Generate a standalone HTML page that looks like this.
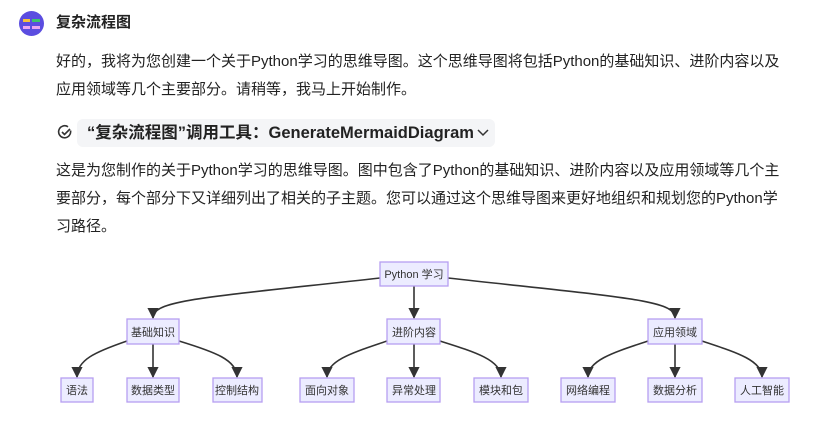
<!DOCTYPE html>
<html><head><meta charset="utf-8"><style>
body{margin:0;width:831px;height:423px;background:#fff;overflow:hidden;font-family:"Liberation Sans","Noto Sans CJK SC",sans-serif;color:#222;position:relative}
.t{position:absolute;white-space:nowrap;font-size:15px;left:56px;line-height:20px}
</style></head><body>
<div style="position:absolute;left:19px;top:11px;width:25px;height:25px;border-radius:50%;background:#5b4de0"></div>
<div style="position:absolute;left:23px;top:19px;width:7px;height:3px;background:#f5c33b"></div>
<div style="position:absolute;left:32px;top:19px;width:8px;height:3px;background:#3ec46d"></div>
<div style="position:absolute;left:23px;top:26px;width:7px;height:3px;background:#e9a6f2"></div>
<div style="position:absolute;left:32px;top:26px;width:8px;height:3px;background:#e9a6f2"></div>
<div class="t" style="top:13px;font-weight:bold;font-size:15px">复杂流程图</div>
<div class="t" style="top:52px">好的，我将为您创建一个关于Python学习的思维导图。这个思维导图将包括Python的基础知识、进阶内容以及</div>
<div class="t" style="top:80px">应用领域等几个主要部分。请稍等，我马上开始制作。</div>
<div style="position:absolute;left:77px;top:119px;width:418px;height:28px;background:#f4f5f7;border-radius:6px"></div>
<svg style="position:absolute;left:57px;top:124px" width="16" height="16" viewBox="0 0 16 16"><path d="M13.5 6.5A6 6 0 1 1 11 2.8" fill="none" stroke="#333" stroke-width="1.6"/><path d="M5 8l2.5 2.5L13 5" fill="none" stroke="#333" stroke-width="1.6"/></svg>
<div class="t" style="left:87px;top:123px;font-weight:bold;font-size:16.5px">“复杂流程图”调用工具：GenerateMermaidDiagram</div>
<svg style="position:absolute;left:477px;top:128px" width="12" height="10"><path d="M1 2l5 5 5-5" fill="none" stroke="#333" stroke-width="1.5"/></svg>
<div class="t" style="top:161px">这是为您制作的关于Python学习的思维导图。图中包含了Python的基础知识、进阶内容以及应用领域等几个主</div>
<div class="t" style="top:189px">要部分，每个部分下又详细列出了相关的子主题。您可以通过这个思维导图来更好地组织和规划您的Python学</div>
<div class="t" style="top:217px">习路径。</div>
<svg style="position:absolute;left:0;top:0" width="831" height="423">
<defs><marker id="a" viewBox="0 0 10 10" refX="9" refY="5" markerWidth="7" markerHeight="7" orient="auto"><path d="M0 0L10 5L0 10z" fill="#333"/></marker></defs>
<g fill="none" stroke="#333" stroke-width="1.6" marker-end="url(#a)">
<path d="M380 278C200 298 153 300 153 318"/>
<path d="M414 286L414 318"/>
<path d="M448 278C628 298 675 300 675 318"/>
<path d="M127 341C95 352 77 360 77 377"/>
<path d="M153 344L153 377"/>
<path d="M179 341C215 352 237 360 237 377"/>
<path d="M387 341C355 352 327 360 327 377"/>
<path d="M414 344L414 377"/>
<path d="M440 341C475 352 501 360 501 377"/>
<path d="M648 341C615 352 588 360 588 377"/>
<path d="M675 344L675 377"/>
<path d="M702 341C735 352 762 360 762 377"/>
</g>
<g fill="#ececff" stroke="#b69ff0" stroke-width="1.3">
<rect x="380" y="262" width="68" height="24"/>
<rect x="127" y="319" width="52" height="25"/><rect x="387" y="319" width="53" height="25"/><rect x="648" y="319" width="54" height="25"/>
<rect x="61" y="378" width="32" height="24"/><rect x="127" y="378" width="52" height="24"/><rect x="213" y="378" width="49" height="24"/>
<rect x="300" y="378" width="54" height="24"/><rect x="387" y="378" width="53" height="24"/><rect x="474" y="378" width="54" height="24"/>
<rect x="561" y="378" width="54" height="24"/><rect x="648" y="378" width="54" height="24"/><rect x="735" y="378" width="54" height="24"/>
</g>
<g font-size="11" fill="#333" text-anchor="middle" font-family="Liberation Sans,Noto Sans CJK SC,sans-serif">
<text x="414" y="278">Python 学习</text>
<text x="153" y="336">基础知识</text><text x="414" y="336">进阶内容</text><text x="675" y="336">应用领域</text>
<text x="77" y="394">语法</text><text x="153" y="394">数据类型</text><text x="237" y="394">控制结构</text>
<text x="327" y="394">面向对象</text><text x="414" y="394">异常处理</text><text x="501" y="394">模块和包</text>
<text x="588" y="394">网络编程</text><text x="675" y="394">数据分析</text><text x="762" y="394">人工智能</text>
</g>
</svg>
</body></html>
